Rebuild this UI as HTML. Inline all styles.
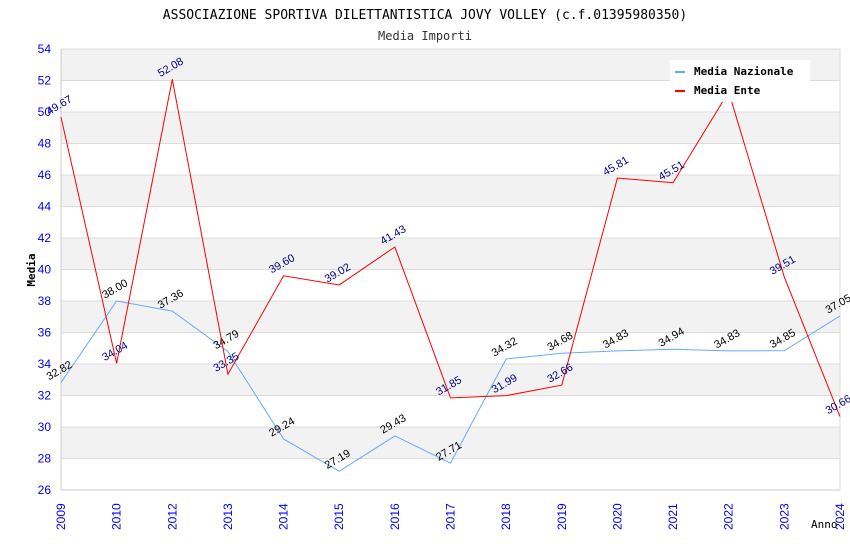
<!DOCTYPE html>
<html><head><meta charset="utf-8"><style>
body{margin:0;background:#fff;width:850px;height:550px;overflow:hidden}
svg{font-family:"DejaVu Sans Mono","Liberation Mono",monospace}
</style></head><body>
<svg id="chart" width="850" height="550"></svg>
<script>
const years=["2009","2010","2012","2013","2014","2015","2016","2017","2018","2019","2020","2021","2022","2023","2024"];
const nazionale=[32.82,38.00,37.36,34.79,29.24,27.19,29.43,27.71,34.32,34.68,34.83,34.94,34.83,34.85,37.05];
const ente=[49.67,34.04,52.08,33.35,39.60,39.02,41.43,31.85,31.99,32.66,45.81,45.51,51.28,39.51,30.66];
const yTicks=[26,28,30,32,34,36,38,40,42,44,46,48,50,52,54];
const NS="http://www.w3.org/2000/svg";
const svg=document.getElementById('chart');
const L=61,R=840,T=49,B=490,ymin=26,ymax=54;
const x=i=>L+(R-L)*i/(years.length-1);
const y=v=>B-(v-ymin)/(ymax-ymin)*(B-T);
function el(t,a,txt){const e=document.createElementNS(NS,t);for(const k in a)e.setAttribute(k,a[k]);if(txt!==undefined)e.textContent=txt;svg.appendChild(e);return e;}
for(let i=0;i<yTicks.length-1;i++){
 if(i%2===1){const b=el('rect',{x:L,y:y(yTicks[i+1]),width:R-L,height:y(yTicks[i])-y(yTicks[i+1]),fill:'#f2f2f2'});
 
 }
}
yTicks.forEach(v=>{
 const g=el('line',{x1:L,x2:R,y1:y(v),y2:y(v),stroke:'#dcdcdc','stroke-width':1});
 
 
 const t=el('text',{x:L-10,y:y(v)+4,'text-anchor':'end','font-size':12,fill:'#0000ee','font-family':'Liberation Sans, sans-serif'},v);
 
 
});
el('line',{x1:L,x2:L,y1:T,y2:B,stroke:'#ccc'});
el('line',{x1:L,x2:R,y1:B,y2:B,stroke:'#ccc'});
el('line',{x1:R,x2:R,y1:T,y2:B,stroke:'#ddd'});
years.forEach((yr,i)=>{
 const t=el('text',{x:0,y:0,transform:`translate(${x(i)+4},${B+40}) rotate(-90)`,'font-size':12,fill:'#0000ee','font-family':'Liberation Sans, sans-serif'},yr);
 
 
});
function series(data,color,txtColor,name){
 const p=el('polyline',{points:data.map((v,i)=>x(i)+','+y(v)).join(' '),fill:'none',stroke:color,'stroke-width':1});
 
 
 data.forEach((v,i)=>{
  const t=el('text',{x:0,y:0,transform:`translate(${x(i)},${y(v)-9}) rotate(-30)`,'text-anchor':'middle','font-size':11,fill:txtColor,'font-family':'Liberation Sans, sans-serif'},v.toFixed(2));
  
  
 });
}
series(nazionale,'#66aaff','#000','nazionale');
series(ente,'#ff0000','#000080','ente');
</script>
<svg width="850" height="550" style="position:absolute;left:0;top:0" font-family="DejaVu Sans Mono, Liberation Mono, monospace">
<text x="425" y="19" text-anchor="middle" font-size="13" fill="#000">ASSOCIAZIONE SPORTIVA DILETTANTISTICA JOVY VOLLEY (c.f.01395980350)</text>
<text x="425" y="40" text-anchor="middle" font-size="12" fill="#333">Media Importi</text>
<text transform="translate(35,270) rotate(-90)" text-anchor="middle" font-size="11" font-weight="bold" fill="#000">Media</text>
<text x="811" y="528" font-size="11" fill="#000">Anno</text>
<g>
<rect x="670" y="60" width="140" height="42" fill="#fff"/>
<rect x="675" y="71" width="10" height="2" fill="#66aaff"/>
<text x="694" y="75" font-size="11" font-weight="bold">Media Nazionale</text>
<rect x="675" y="90" width="10" height="2" fill="#ff0000"/>
<text x="694" y="94" font-size="11" font-weight="bold">Media Ente</text>
</g>
</svg>
</body></html>
